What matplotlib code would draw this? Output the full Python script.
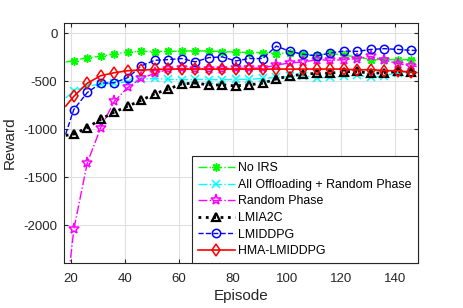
import matplotlib
matplotlib.use("Agg")
import matplotlib.pyplot as plt

plt.rcParams['font.family'] = ['Liberation Sans', 'DejaVu Sans']
plt.rcParams['axes.unicode_minus'] = False

# episodes: left edge point, marker points (every 5), right edge point
episodes = [18] + list(range(21, 147, 5)) + [148]

no_irs = [-300, -284, -253, -240, -215, -195, -188, -190, -188, -185, -182, -185,
          -190, -195, -200, -200, -212, -200, -212, -229, -208, -229, -246, -274,
          -274, -274, -274, -274]
all_off = [-675, -600, -550, -530, -520, -505, -480, -470, -480, -485, -480, -482,
           -485, -480, -480, -470, -460, -450, -440, -465, -460, -450, -435, -460,
           -440, -410, -400, -395]
rand_phase = [-2800, -2046, -1350, -983, -709, -565, -469, -418, -376, -366, -370, -368,
              -368, -365, -365, -360, -332, -308, -300, -275, -281, -275, -263, -240,
              -281, -315, -339, -345]
lmia2c = [-1065, -1052, -983, -897, -822, -760, -699, -630, -582, -527, -520, -537,
          -540, -548, -537, -520, -476, -445, -425, -418, -415, -401, -398, -418,
          -410, -398, -408, -410]
lmiddpg = [-1050, -795, -617, -520, -515, -462, -339, -281, -274, -263, -298, -253,
           -246, -288, -263, -263, -133, -188, -219, -236, -205, -185, -188, -168,
           -160, -168, -178, -178]
hma = [-760, -658, -520, -442, -411, -390, -383, -377, -373, -373, -373, -373,
       -373, -373, -373, -373, -373, -373, -373, -373, -373, -373, -383, -378,
       -390, -390, -407, -410]

labels = ["No IRS", "All Offloading + Random Phase", "Random Phase",
          "LMIA2C", "LMIDDPG", "HMA-LMIDDPG"]

fig = plt.figure(figsize=(4.63, 3.08), dpi=100)
ax = fig.add_axes([0.139, 0.145, 0.764, 0.781])

mk = slice(1, len(episodes) - 1)
ax.plot(episodes, no_irs, color=(0, 1, 0), ls='-.', lw=1, marker=(8, 2, 0),
        ms=6, mew=1.1, markevery=mk, label=labels[0])
ax.plot(episodes, all_off, color=(0, 1, 1), ls='-.', lw=1, marker='x',
        ms=5.5, mew=1.1, markevery=mk, label=labels[1])
ax.plot(episodes, rand_phase, color=(1, 0, 1), ls='-.', lw=1, marker='*',
        ms=8, mfc='none', mew=1.1, markevery=mk, label=labels[2])
ax.plot(episodes, lmia2c, color='k', ls=':', lw=2, marker='^',
        ms=6, mfc='none', mew=1.6, markevery=mk, label=labels[3])
ax.plot(episodes, lmiddpg, color='b', ls='--', lw=1, marker='o',
        ms=6, mfc='none', mew=1.1, markevery=mk, label=labels[4])
ax.plot(episodes, hma, color='r', ls='-', lw=1.2, marker='d',
        ms=6.5, mfc='none', mew=1.1, markevery=mk, label=labels[5])

ax.set_xlim(17.5, 148.5)
ax.set_ylim(-2400, 110)
ax.set_xticks([20, 40, 60, 80, 100, 120, 140])
ax.set_yticks([-2000, -1500, -1000, -500, 0])
ax.grid(True, color='#e0e0e0', lw=0.8)
ax.set_axisbelow(True)
ax.tick_params(direction='in', top=True, right=True, labelsize=9.5,
               colors='#262626', length=3)
ax.tick_params(axis='x', pad=7)
ax.tick_params(axis='y', pad=5)
for s in ax.spines.values():
    s.set_color('#262626')
    s.set_linewidth(0.8)

ax.set_xlabel("Episode", fontsize=11, color='#262626', labelpad=3)
ax.set_ylabel("Reward", fontsize=11, color='#262626', labelpad=5)

leg = ax.legend(loc='lower right', borderaxespad=0, fontsize=8.9,
                fancybox=False, framealpha=1, edgecolor='#262626',
                handlelength=2.95, handletextpad=0.3, labelspacing=0.37,
                borderpad=0.5)
leg.get_frame().set_linewidth(0.8)

fig.savefig("out.png", dpi=100)
